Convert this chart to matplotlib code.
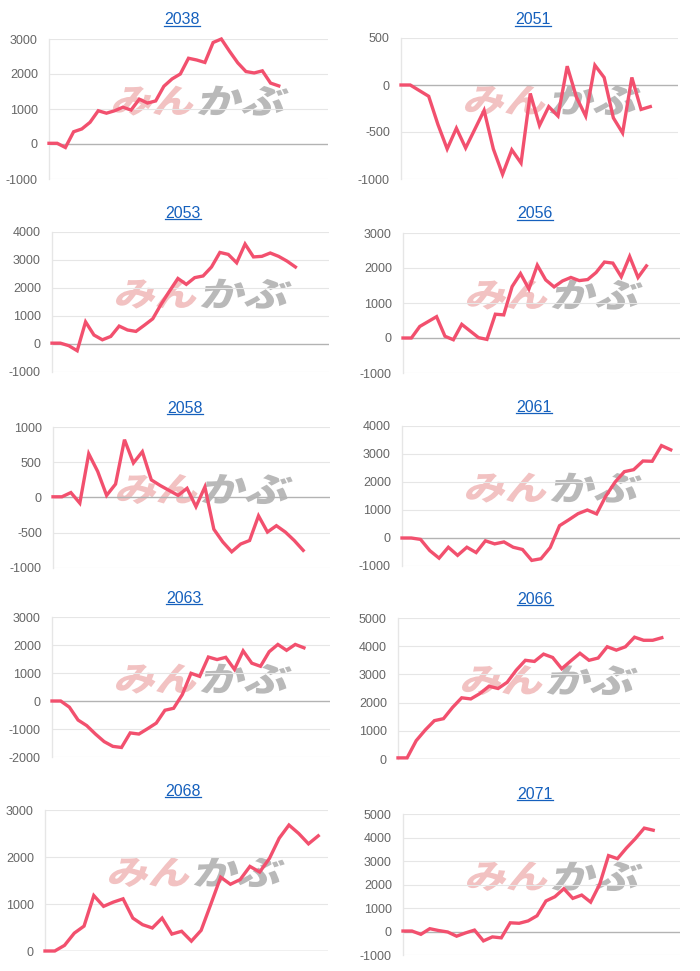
# -*- coding: utf-8 -*-
"""Ten small cumulative-line panels (2 x 5 grid), each titled by code with a watermark."""
import numpy as np
import matplotlib; matplotlib.use("Agg")
import matplotlib.pyplot as plt
from matplotlib.lines import Line2D
from matplotlib.textpath import TextPath
from matplotlib.patches import PathPatch
from matplotlib.font_manager import FontProperties
from matplotlib.transforms import Affine2D, IdentityTransform

plt.rcParams["font.family"] = ["Liberation Sans", "DejaVu Sans"]

# ---- data ----
codes = ["2038", "2051", "2053", "2056", "2058", "2061", "2063", "2066", "2068", "2071"]

v2038 = [20, 20, -100, 350, 430, 620, 950, 880, 950, 1050, 970, 1280, 1170, 1230, 1650,
         1860, 2000, 2450, 2400, 2330, 2900, 3000, 2650, 2320, 2070, 2030, 2090, 1740, 1660]
v2051 = [0, 0, -60, -120, -420, -680, -460, -670, -470, -270, -680, -950, -690, -830,
         -90, -430, -230, -330, 200, -130, -330, 210, 80, -350, -510, 80, -260, -230]
v2053 = [30, 30, -60, -240, 790, 320, 150, 270, 640, 500, 450, 670, 900, 1420, 1890,
         2340, 2130, 2370, 2430, 2750, 3270, 3200, 2900, 3570, 3110, 3130, 3250, 3130, 2960, 2750]
v2056 = [0, 0, 330, 470, 610, 50, -50, 390, 200, 10, -40, 680, 660, 1470, 1840, 1400,
         2080, 1660, 1460, 1630, 1730, 1640, 1670, 1870, 2170, 2140, 1750, 2330, 1730, 2060]
v2058 = [10, 10, 70, -80, 620, 370, 30, 190, 820, 490, 650, 250, 170, 100, 30, 130, -130,
         150, -450, -630, -770, -660, -610, -260, -490, -400, -490, -610, -750]
v2061 = [0, 0, -50, -450, -720, -330, -620, -330, -520, -100, -210, -140, -330, -410, -800,
         -740, -340, 440, 650, 870, 1000, 860, 1500, 2000, 2370, 2440, 2750, 2740, 3300, 3150]
v2063 = [0, 0, -220, -680, -880, -1180, -1450, -1620, -1660, -1140, -1180, -990, -790, -330,
         -260, 230, 990, 880, 1570, 1480, 1560, 1130, 1790, 1350, 1240, 1760, 2020, 1810, 2020, 1900]
v2066 = [40, 40, 650, 1030, 1360, 1430, 1830, 2170, 2130, 2320, 2580, 2500, 2720, 3150, 3500,
         3460, 3720, 3600, 3200, 3480, 3750, 3500, 3580, 3980, 3860, 3980, 4320, 4210, 4210, 4300]
v2068 = [0, 0, 120, 380, 530, 1180, 950, 1040, 1110, 700, 560, 490, 700, 360, 420, 210, 440,
         1000, 1570, 1420, 1520, 1800, 1680, 1970, 2400, 2680, 2500, 2280, 2450]
v2071 = [20, 20, -120, 120, 40, -20, -200, -60, 60, -400, -230, -270, 370, 350, 450, 670,
         1300, 1480, 1820, 1410, 1550, 1250, 2000, 3230, 3100, 3550, 3950, 4400, 4310]
values = [v2038, v2051, v2053, v2056, v2058, v2061, v2063, v2066, v2068, v2071]

# number of category slots on each x axis (line stops before the right edge)
n_slots = [35, 31, 34, 34, 32, 31, 33, 32, 30, 32]
y_ticks = [(-1000, 3000, 1000), (-1000, 500, 500), (-1000, 4000, 1000), (-1000, 3000, 1000),
           (-1000, 1000, 500), (-1000, 4000, 1000), (-2000, 3000, 1000), (0, 5000, 1000),
           (0, 3000, 1000), (-1000, 5000, 1000)]

# ---- layout (pixels: left, top, right, bottom) and title centres ----
W, H = 700, 971
boxes = [(49, 39, 328, 179), (401, 38, 678, 179), (52, 232, 329, 372), (403, 233, 680, 373),
         (53, 427, 330, 568), (402, 426, 680, 566), (52, 617, 330, 757), (398, 618, 680, 759),
         (45, 810, 328, 951), (403, 814, 680, 955)]
title_xy = [(182, 20), (533, 20), (183, 213), (535, 214), (185, 408), (534, 407),
            (184, 598), (535, 599), (183, 791), (535, 794)]

LINE = "#f2506e"; BLUE = "#1560bd"; GRID = "#e6e6e6"; ZERO = "#b3b3b3"; TICK = "#666666"
LOGO_FONT = FontProperties(family=["Noto Sans CJK JP"], weight="black")


def logo_part(fig, txt, color, x0, yc, w, h):
    """Stretched, slanted text path placed in pixel coords (lower-left x0, centre yc)."""
    p = TextPath((0, 0), txt, size=10, prop=LOGO_FONT)
    ext = p.get_extents()
    tr = (Affine2D().translate(-ext.x0, -ext.y0)
          .scale(w / ext.width, h / ext.height)
          .skew_deg(14, 0)
          .translate(x0, yc - h / 2))
    fig.add_artist(PathPatch(tr.transform_path(p), fc=color, ec="none",
                             transform=IdentityTransform(), zorder=1))


fig = plt.figure(figsize=(W / 100, H / 100), dpi=100)
titles = []
axes = []
for code, vals, ns, (lo, hi, st), (l, t, r, b), (tx, ty) in zip(
        codes, values, n_slots, y_ticks, boxes, title_xy):
    ax = fig.add_axes([l / W, 1 - b / H, (r - l) / W, (b - t) / H])
    ax.patch.set_alpha(0)
    ticks = np.arange(lo, hi + st, st)
    ax.set_ylim(lo, hi); ax.set_xlim(0, ns - 1)
    ax.set_yticks(ticks); ax.set_xticks([])
    for v in ticks:
        ax.axhline(v, color=ZERO if v == 0 else GRID, lw=1.0 if v == 0 else 0.8, zorder=0)
    for s in ("top", "right", "bottom"):
        ax.spines[s].set_visible(False)
    ax.spines["left"].set_color(GRID); ax.spines["left"].set_linewidth(1.0)
    ax.tick_params(axis="y", length=0, pad=8, labelsize=9, labelcolor=TICK)
    ax.set_yticklabels([f"{v:d}" for v in ticks])
    ax.plot(np.arange(len(vals)), vals, color=LINE, lw=2.4, zorder=3,
            solid_joinstyle="miter", clip_on=False)
    titles.append(fig.text(tx / W, 1 - ty / H, code, ha="center", va="center",
                           fontsize=11.5, color=BLUE))
    axes.append(ax)

# watermark logo, drawn in pixel space under the transparent axes
for ax, (l, t, r, b) in zip(axes, boxes):
    yc = H - (t + 0.44 * (b - t))
    logo_part(fig, "みん", "#f2c2c2", l + 62, yc, 80, 30)
    logo_part(fig, "かぶ", "#b9b9b9", l + 148, yc, 86, 30)
    ax.set_zorder(2)

# underline the titles (link style)
fig.canvas.draw()
rend = fig.canvas.get_renderer()
for t in titles:
    bb = t.get_window_extent(rend)
    y = (bb.y0 + 1.5) / H
    fig.add_artist(Line2D([bb.x0 / W, bb.x1 / W], [y, y], color=BLUE, lw=0.9,
                          transform=fig.transFigure))

fig.savefig("out.png", dpi=100, facecolor="white")
